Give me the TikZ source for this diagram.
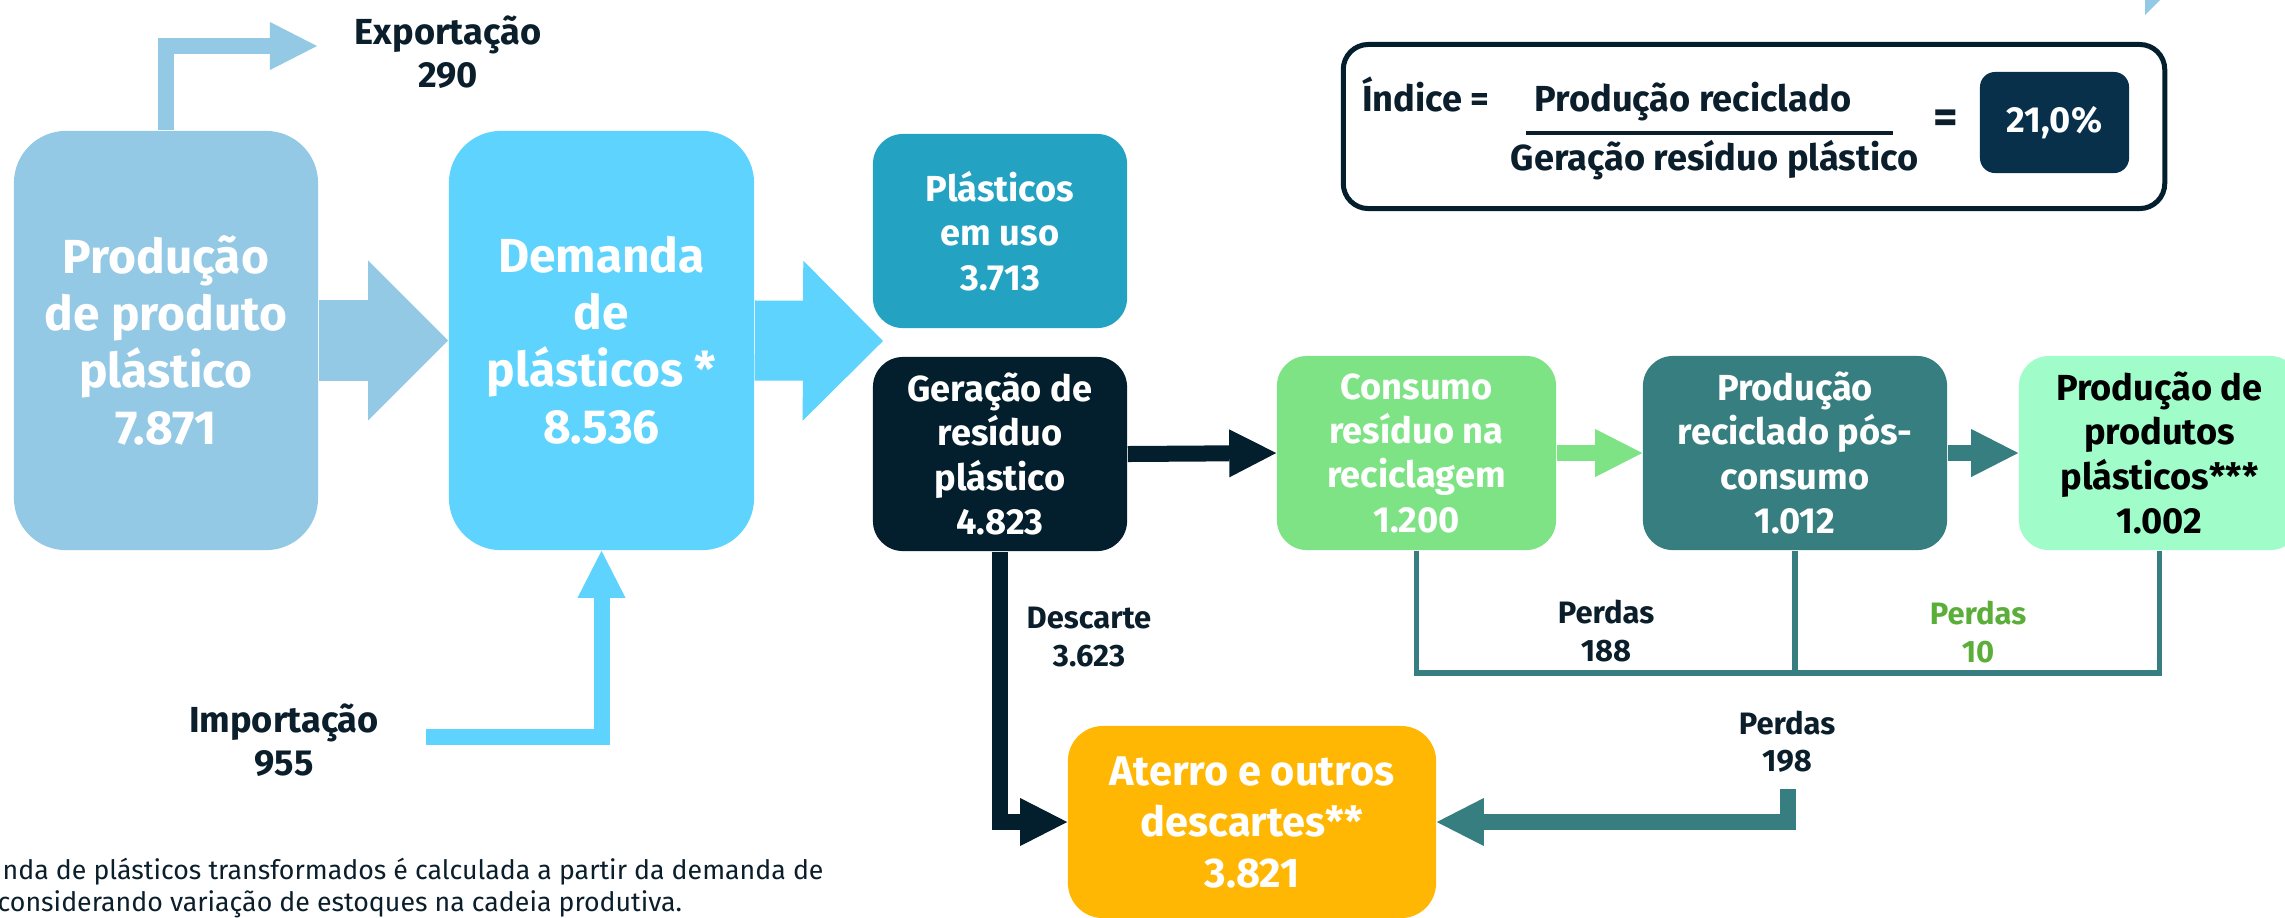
\documentclass[tikz,border=0pt]{standalone}
\usepackage{fontspec}
\setmainfont{Fira Sans}
\usetikzlibrary{arrows.meta}
\definecolor{cProd}{HTML}{93C9E5}
\definecolor{cDem}{HTML}{5DD3FD}
\definecolor{cUso}{HTML}{23A2C2}
\definecolor{cGer}{HTML}{031E2C}
\definecolor{cCons}{HTML}{7DE385}
\definecolor{cTeal}{HTML}{367E80}
\definecolor{cMint}{HTML}{A0FDCA}
\definecolor{cAmber}{HTML}{FFB703}
\definecolor{cRes}{HTML}{08304A}
\definecolor{ink}{HTML}{0B1E2B}
\definecolor{cGreen}{HTML}{5BAE39}
\tikzset{
  box/.style={rounded corners=0.3cm, align=center, inner sep=0pt, text=white,
    font=\bfseries\fontsize{10.3}{12.6}\selectfont},
  bigbox/.style={box, rounded corners=0.52cm, font=\bfseries\fontsize{13.6}{16.2}\selectfont},
  lbl/.style={align=center, inner sep=0pt, text=ink, font=\bfseries\fontsize{10.3}{12.3}\selectfont},
  smlbl/.style={align=center, inner sep=0pt, text=ink, font=\bfseries\fontsize{8.8}{10.6}\selectfont},
  note/.style={inner sep=0pt, text=ink, font=\fontsize{7.6}{9}\selectfont},
  blockarrow/.style={line width=0.16cm, line join=miter,
    -{Triangle[length=0.47cm,width=0.48cm,line width=0pt]}},
  fatarrow/.style={line width=0.8cm,
    -{Triangle[length=0.8cm,width=1.6cm,line width=0pt]}},
  lossline/.style={line width=0.055cm, cTeal, line join=miter},
}
\begin{document}
\begin{tikzpicture}[x=0.01cm,y=-0.01cm]
\useasboundingbox (0,0) rectangle (2285,917);

% boxes
\node[bigbox, fill=cProd, minimum width=3.04cm, minimum height=4.19cm] (prod) at (166,340.5)
  {Produção\\de produto\\plástico\\7.871};
\node[bigbox, fill=cDem, minimum width=3.05cm, minimum height=4.19cm] (dem) at (601.5,340.5)
  {Demanda\\de\\plásticos *\\8.536};
\node[box, fill=cUso, minimum width=2.54cm, minimum height=1.94cm] (uso) at (1000,231)
  {Plásticos\\em uso\\3.713};
\node[box, fill=cGer, minimum width=2.54cm, minimum height=1.94cm] (ger) at (1000,454)
  {Geração de\\resíduo\\plástico\\4.823};
\node[box, fill=cCons, minimum width=2.79cm, minimum height=1.94cm] (cons) at (1416.5,453)
  {Consumo\\resíduo na\\reciclagem\\1.200};
\node[box, fill=cTeal, minimum width=3.04cm, minimum height=1.94cm] (prec) at (1795,453)
  {Produção\\reciclado pós-\\consumo\\1.012};
\node[box, fill=cMint, text=black, minimum width=2.81cm, minimum height=1.94cm] (pp) at (2159.5,453)
  {Produção de\\produtos\\plásticos***\\1.002};
\node[box, rounded corners=0.35cm, fill=cAmber, minimum width=3.68cm, minimum height=1.92cm,
  font=\bfseries\fontsize{11.8}{14.5}\selectfont] (aterro) at (1252,822)
  {Aterro e outros\\descartes**\\3.821};

% index box
\node[draw=cGer, line width=0.05cm, rounded corners=0.25cm, minimum width=8.21cm,
  minimum height=1.64cm, inner sep=0pt] (idx) at (1754,126.5) {};
\node[lbl, anchor=base] (idxlbl) at (1426,111) {Índice =};
\node[lbl, anchor=base] (num) at (1693,111) {Produção reciclado};
\node[lbl, anchor=base] (den) at (1714.5,170) {Geração resíduo plástico};
\draw[ink, line width=0.035cm] (1526,133) -- (1893,133);
\node[lbl, font=\bfseries\fontsize{13.5}{15}\selectfont] (eq) at (1946,122) {=};
\node[box, rounded corners=0.15cm, fill=cRes, minimum width=1.49cm, minimum height=1.01cm]
  (res) at (2054.5,122.5) {21,0\%};

% labels
\node[lbl] (exp) at (448,52) {Exportação\\290};
\node[lbl] (imp) at (284,740) {Importação\\955};
\node[smlbl] (desc) at (1089,637) {Descarte\\3.623};
\node[smlbl] (p188) at (1606,631) {Perdas\\188};
\node[smlbl, text=cGreen] (p10) at (1978,632) {Perdas\\10};
\node[smlbl] (p198) at (1787,742) {Perdas\\198};

% connectors
\draw[fatarrow, cProd] (prod.east) -- (dem.west);
\coordinate (split) at (883,341);
\draw[fatarrow, cDem] (dem.east) -- (split);
\coordinate (expend) at (317,46);
\draw[blockarrow, cProd] (prod.north) |- (expend);
\coordinate (impstart) at (426,736.5);
\draw[blockarrow, cDem] (impstart) -| (dem.south);
\draw[blockarrow, cGer] (ger.east) -- (cons.west);
\draw[blockarrow, cCons] (cons.east) -- (prec.west);
\draw[blockarrow, cTeal] (prec.east) -- (pp.west);
\draw[blockarrow, cGer] (ger.south) |- (aterro.west);
\coordinate (p198top) at (1788,789);
\draw[blockarrow, cTeal] (p198top) |- (aterro.east);

% losses bracket
\coordinate (brbase) at (0,673);
\draw[lossline] (cons.south) |- (brbase -| pp.south) -- (pp.south);
\draw[lossline] (prec.south) -- (prec.south |- brbase);

% partial arrow tip at top right
\fill[cProd] (2145,0) -- (2145,15) -- (2160,0) -- cycle;

% footnote
\node[note, anchor=base west] (n1) at (2,879) {nda de plásticos transformados é calculada a partir da demanda de};
\node[note, anchor=base west] (n2) at (-3,911) {considerando variação de estoques na cadeia produtiva.};
\end{tikzpicture}
\end{document}
